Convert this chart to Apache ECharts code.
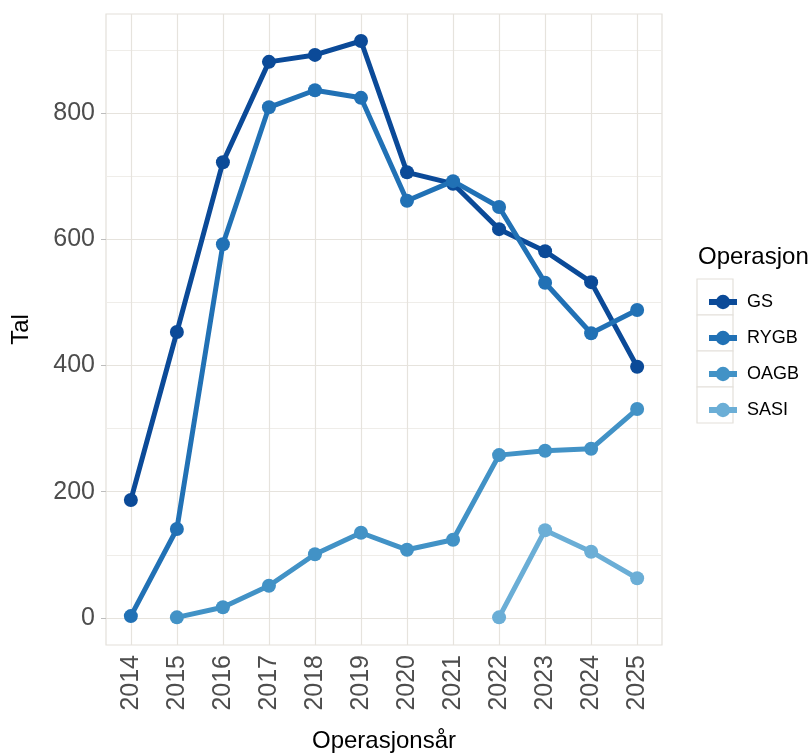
<!DOCTYPE html>
<html>
<head>
<meta charset="utf-8">
<script src="https://cdn.jsdelivr.net/npm/echarts@6/dist/echarts.min.js"></script>
<style>
  html, body { margin: 0; padding: 0; background: #fff; }
  #chart { width: 811px; height: 755px; }
</style>
</head>
<body>
<div id="chart"></div>
<script>
const years = [2014, 2015, 2016, 2017, 2018, 2019, 2020, 2021, 2022, 2023, 2024, 2025]
const gs   = [187, 453, 722, 881, 892, 914, 706, 688, 616, 581, 532, 398]
const rygb = [3, 141, 592, 809, 836, 824, 661, 692, 651, 531, 451, 488]
const oagb = [null, 1, 17, 51, 101, 135, 108, 124, 258, 265, 268, 331]
const sasi = [null, null, null, null, null, null, null, null, 1, 139, 105, 63]
const yTicks = [0, 200, 400, 600, 800]
const yMinor = [100, 300, 500, 700, 900]

const seriesNames = ['GS', 'RYGB', 'OAGB', 'SASI']
const seriesData = [gs, rygb, oagb, sasi]
const colors = ['#0b4a98', '#2171b5', '#4292c6', '#6baed6']

const gridMajor = '#e6e3dd'
const gridMinor = '#efede9'
const font = 'Liberation Sans, Arial, sans-serif'

const chart = echarts.init(document.getElementById('chart'))

const lineSeries = seriesNames.map((name, i) => ({
  name,
  type: 'line',
  data: years.map((y, j) => [y, seriesData[i][j]]).filter(d => d[1] !== null),
  color: colors[i],
  symbol: 'circle',
  symbolSize: 14,
  lineStyle: { width: 5, color: colors[i] },
  itemStyle: { color: colors[i] },
  z: 10 + i,
  animation: false
}))

// ggplot-style grid lines drawn as mark lines on an empty helper series
const gridSeries = {
  type: 'line',
  data: [],
  silent: true,
  animation: false,
  z: 1,
  markLine: {
    symbol: 'none',
    silent: true,
    label: { show: false },
    animation: false,
    data: [
      ...yMinor.map(v => ({ yAxis: v, lineStyle: { color: gridMinor, width: 1, type: 'solid' } })),
      ...yTicks.map(v => ({ yAxis: v, lineStyle: { color: gridMajor, width: 1.2, type: 'solid' } })),
      ...years.map(v => ({ xAxis: v, lineStyle: { color: gridMajor, width: 1.2, type: 'solid' } }))
    ]
  }
}

const option = {
  backgroundColor: '#fff',
  animation: false,
  grid: {
    left: 106, top: 14, right: 149, bottom: 110,
    outerBoundsMode: 'none',
    show: true, borderColor: '#e3e0da', borderWidth: 1.2
  },
  xAxis: {
    type: 'value',
    min: 2013.46,
    max: 2025.54,
    splitLine: { show: false },
    axisLine: { show: false },
    axisTick: { show: true, customValues: years, length: 5, lineStyle: { color: '#bdbdbd' } },
    axisLabel: {
      customValues: years,
      rotate: 90,
      fontSize: 25,
      color: '#4d4d4d',
      fontFamily: font,
      margin: 10,
      formatter: v => String(v)
    },
    name: 'Operasjonsår',
    nameLocation: 'middle',
    nameGap: 84,
    nameTextStyle: { fontSize: 24, color: '#000', fontFamily: font }
  },
  yAxis: {
    type: 'value',
    min: -42.8,
    max: 956.8,
    splitLine: { show: false },
    axisLine: { show: false },
    axisTick: { show: true, customValues: yTicks, length: 5, lineStyle: { color: '#bdbdbd' } },
    axisLabel: {
      customValues: yTicks,
      fontSize: 25,
      color: '#4d4d4d',
      fontFamily: font,
      margin: 11
    },
    name: 'Tal',
    nameLocation: 'middle',
    nameGap: 73,
    nameRotate: 90,
    nameTextStyle: { fontSize: 24, color: '#000', fontFamily: font }
  },
  legend: {
    data: seriesNames,
    orient: 'vertical',
    left: 701,
    top: 288,
    itemWidth: 28,
    itemHeight: 18,
    itemGap: 18,
    lineStyle: { width: 6 },
    textStyle: { fontSize: 18, lineHeight: 18, color: '#000', fontFamily: font, padding: [0, 0, 0, 5] }
  },
  graphic: [
    {
      type: 'text',
      style: { x: 698, y: 257, text: 'Operasjon', fontSize: 24, fill: '#000', fontFamily: font, verticalAlign: 'middle' }
    },
    ...seriesNames.map((n, i) => ({
      type: 'rect',
      shape: { x: 697, y: 279 + 36 * i, width: 36, height: 36 },
      style: { fill: '#fff', stroke: '#e3e0da', lineWidth: 1.2 },
      z: -1
    }))
  ],
  series: [gridSeries, ...lineSeries]
}

chart.setOption(option)
</script>
</body>
</html>
